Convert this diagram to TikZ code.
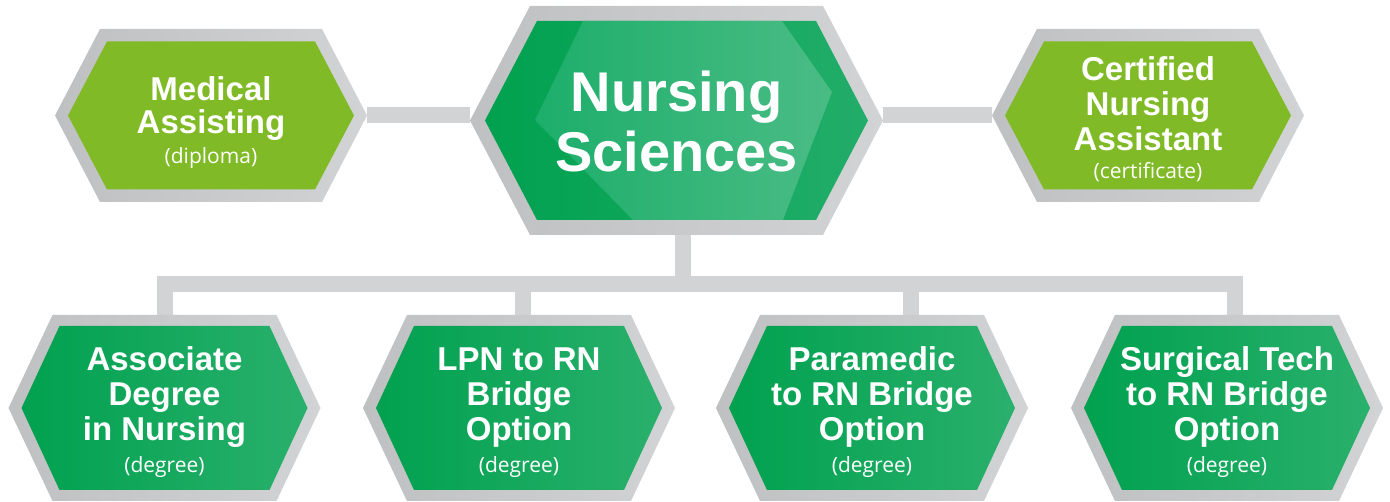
\documentclass[tikz,border=0pt]{standalone}
\usepackage{fontspec}
\setmainfont{Liberation Sans}
\newfontfamily\subf{Open Sans}
\usetikzlibrary{calc,backgrounds}
\definecolor{brd}{HTML}{D2D3D5}
\definecolor{brdL}{HTML}{BFC0C2}
\definecolor{lime}{HTML}{80BA27}
\definecolor{gA}{HTML}{00A14F}
\definecolor{gB}{HTML}{2AB06C}
\definecolor{gC}{HTML}{22AD69}
\definecolor{oA}{HTML}{1DAE6B}
\definecolor{oB}{HTML}{4ABC85}
\newcommand\hexat[5]{\path[#5, shift={(#1.center)}] (-#2,0) -- (-#2+#4,#3) -- (#2-#4,#3) -- (#2,0) -- (#2-#4,-#3) -- (-#2+#4,-#3) -- cycle;}
\newcommand\sub[1]{{\subf\mdseries\fontsize{21}{21}\selectfont #1}}
\tikzset{
  hexT/.style={shape=rectangle, minimum width=312pt, minimum height=173pt, inner sep=0pt},
  hexC/.style={shape=rectangle, minimum width=413pt, minimum height=229pt, inner sep=0pt},
  hexB/.style={shape=rectangle, minimum width=312pt, minimum height=186pt, inner sep=0pt},
  txt/.style={text=white, font=\bfseries\fontsize{33}{33}\selectfont, align=center, inner sep=0pt},
  txtB/.style={text=white, font=\bfseries\fontsize{33}{35}\selectfont, align=center, inner sep=0pt},
  txtC/.style={text=white, font=\bfseries\fontsize{56}{60}\selectfont, align=center, inner sep=0pt},
  conn/.style={draw=brd, line width=16pt, line join=miter},
  outer/.style={left color=brdL, right color=brd},
  limefill/.style={fill=lime},
  greenfill/.style={left color=gA, right color=gB},
}
\begin{document}
\begin{tikzpicture}[x=1pt,y=1pt]
\useasboundingbox (0,0) rectangle (1390,502);
% hexagon nodes
\node[hexT] (ma) at (211,386.5) {};
\node[hexC] (ns) at (676.5,381.5) {};
\node[hexT] (cna) at (1148,386.5) {};
\node[hexB] (ad) at (164.5,94) {};
\node[hexB] (lpn) at (519,94) {};
\node[hexB] (pm) at (872,94) {};
\node[hexB] (st) at (1227,94) {};
% bus coordinates
\coordinate (bus) at (683,218);
\coordinate (dA) at (165,218);
\coordinate (dB) at (523,218);
\coordinate (dC) at (911,218);
\coordinate (dD) at (1235,218);
% texts
\node[txt] (ma-t) at ($(ma)+(0,-7)$) {Medical\\Assisting\\[-3pt]\sub{(diploma)}};
\node[txtC] (ns-t) at ($(ns)+(0,-1)$) {Nursing\\Sciences};
\node[txtB] (cna-t) at ($(cna)+(0,-3.5)$) {Certified\\Nursing\\Assistant\\[-7pt]\sub{(certificate)}};
\node[txtB] (ad-t) at ($(ad)+(0,-4.5)$) {Associate\\Degree\\in Nursing\\[-3pt]\sub{(degree)}};
\node[txtB] (lpn-t) at ($(lpn)+(0,-4.5)$) {LPN to RN\\Bridge\\Option\\[-3pt]\sub{(degree)}};
\node[txtB] (pm-t) at ($(pm)+(0,-4.5)$) {Paramedic\\to RN Bridge\\Option\\[-3pt]\sub{(degree)}};
\node[txtB] (st-t) at ($(st)+(0,-4.5)$) {Surgical Tech\\to RN Bridge\\Option\\[-3pt]\sub{(degree)}};
\begin{pgfonlayer}{background}
% connectors
\draw[conn] (ma.east) -- (ns.west |- ma.east);
\draw[conn] (ns.east |- cna.west) -- (cna.west);
\draw[conn] (ns.south -| bus) -- (bus);
\draw[conn] (ad.north -| dA) -- (dA) -- (dD) -- (st.north -| dD);
\draw[conn] (dB) -- (lpn.north -| dB);
\draw[conn] (dC) -- (pm.north -| dC);
% outer gray
\hexat{ma}{156}{86.5}{45}{outer}
\hexat{cna}{156}{86.5}{45}{outer}
\hexat{ns}{206.5}{114.5}{60}{outer}
\hexat{ad}{156}{93}{44}{outer}
\hexat{lpn}{156}{93}{44}{outer}
\hexat{pm}{156}{93}{44}{outer}
\hexat{st}{156}{93}{44}{outer}
% inner
\hexat{ma}{143}{74}{39}{limefill}
\hexat{cna}{143}{74}{39}{limefill}
\hexat{ns}{191.5}{99.5}{52}{left color=gA, right color=gC}
\path[left color=oA, right color=oB] (535,382) -- (583,481) -- (782,481) -- (832,410) -- (783,282) -- (633,282) -- cycle;
\hexat{ad}{143}{82}{38}{greenfill}
\hexat{lpn}{143}{82}{38}{greenfill}
\hexat{pm}{143}{82}{38}{greenfill}
\hexat{st}{143}{82}{38}{greenfill}
\end{pgfonlayer}
\end{tikzpicture}
\end{document}
